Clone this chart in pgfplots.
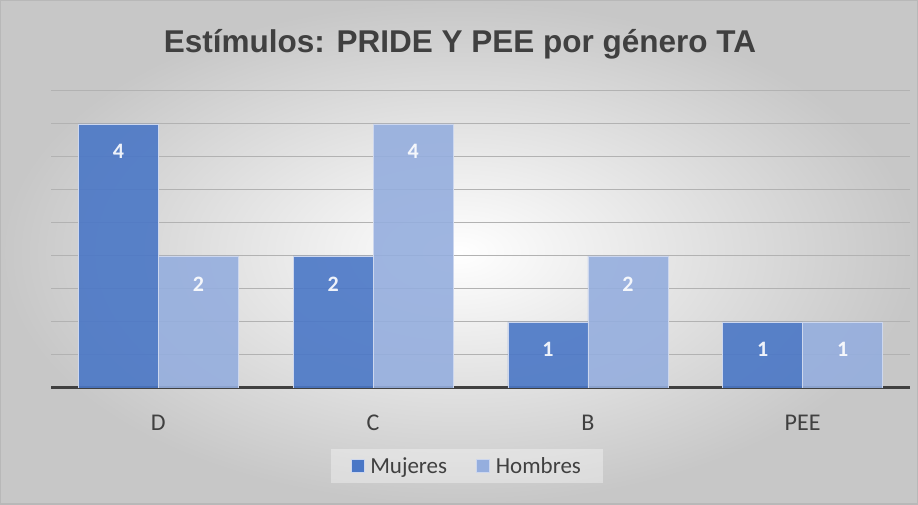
\documentclass[border=0pt]{standalone}
\usepackage{pgfplots}
\pgfplotsset{compat=1.18}
\usepackage{fontspec}
\setmainfont{Carlito}
\newfontfamily\titlefont{Liberation Sans}
\definecolor{mujeres}{RGB}{74,119,198}
\definecolor{hombres}{RGB}{149,174,222}
\definecolor{txt}{RGB}{64,64,64}
\definecolor{gridc}{RGB}{178,178,178}
\definecolor{edge}{RGB}{205,215,238}

\begin{document}
\begin{tikzpicture}[x=1bp,y=1bp]
  % chart area background
  \shade[inner color=white, outer color=black!22] (0,0) rectangle (918,505);
  \draw[black!28, line width=1.5bp] (0.75,0.75) rectangle (917.25,504.25);
  \node[text=txt, font=\titlefont\bfseries\fontsize{31.5bp}{36bp}\selectfont] at (460,461) {Estímulos: PRIDE Y PEE por género TA};

  \begin{axis}[
      at={(51bp,117bp)}, anchor=south west,
      scale only axis, width=859bp, height=297bp,
      xmin=-0.5, xmax=3.5, ymin=0, ymax=4.5,
      ybar=0pt, bar width=80bp,
      /pgf/number format/assume math mode=true,
      xtick=data, xticklabels={D,C,B,PEE},
      typeset ticklabels with strut,
      xticklabel style={text=txt, font=\fontsize{24bp}{28bp}\selectfont, yshift=-19bp},
      major tick length=0pt,
      ytick={0,0.5,...,4.5}, yticklabels={},
      ymajorgrids, grid style={gridc, line width=1bp},
      axis x line*=bottom,
      axis y line*=left,
      y axis line style={draw=none},
      x axis line style={txt, line width=3bp, -},
      nodes near coords,
      every node near coord/.append style={anchor=north, yshift=-17bp, text=white,
        font=\bfseries\fontsize{22bp}{26bp}\selectfont},
      legend style={at={(0.484,-0.263)}, anchor=center, draw=none,
        fill=white, fill opacity=0.35, text opacity=1,
        legend columns=2, font=\fontsize{23bp}{27bp}\selectfont, text=txt,
        inner xsep=20bp, inner ysep=6bp,
        /tikz/every odd column/.append style={column sep=4bp},
        /tikz/every even column/.append style={column sep=27bp}},
      legend image code/.code={\fill[#1, fill opacity=1] (0bp,-6.5bp) rectangle (13bp,6.5bp);},
    ]
    \addplot[fill=mujeres, fill opacity=0.9, draw=edge, line width=0.75bp]
      coordinates {(0,4) (1,2) (2,1) (3,1)};
    \addplot[fill=hombres, fill opacity=0.9, draw=edge, line width=0.75bp]
      coordinates {(0,2) (1,4) (2,2) (3,1)};
    \legend{Mujeres, Hombres}
  \end{axis}
\end{tikzpicture}
\end{document}
